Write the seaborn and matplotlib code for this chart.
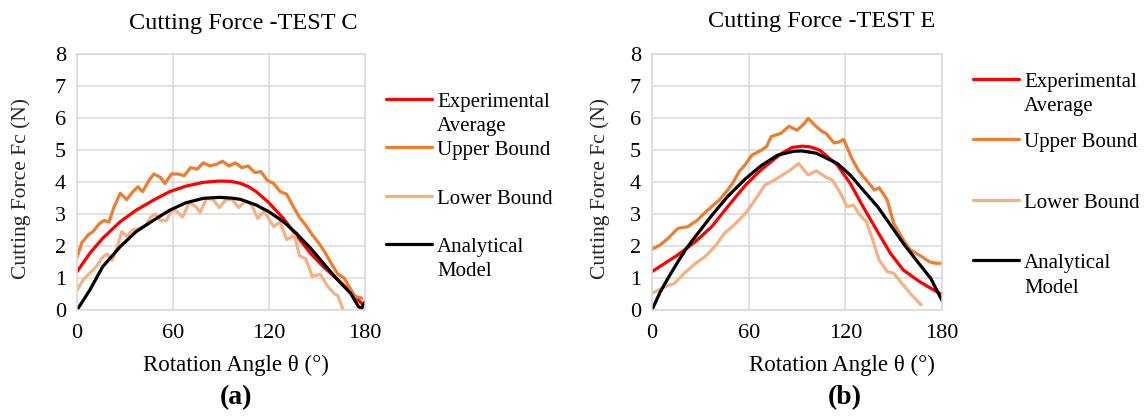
import numpy as np
import pandas as pd
import matplotlib
matplotlib.use("Agg")
import matplotlib.pyplot as plt
import seaborn as sns
from matplotlib.lines import Line2D
from matplotlib.legend_handler import HandlerLine2D

# ---------------- data: TEST C ----------------
c_avg_x = [0, 8, 16, 27, 37, 48, 58, 68, 79, 89, 96, 102, 107, 112, 120, 129, 137, 146, 154, 162, 171, 178]
c_avg_y = [1.2, 1.77, 2.24, 2.76, 3.12, 3.44, 3.70, 3.87, 3.99, 4.03, 4.02, 3.96, 3.86, 3.70, 3.35, 2.86, 2.34, 1.77, 1.35, 0.99, 0.57, 0.2]

c_up_x = [0, 3, 7, 10, 14, 17, 20, 23, 27, 31, 35, 38, 41, 45, 48, 52, 55, 59, 63, 67, 71, 75, 79, 83, 87,
          91, 95, 99, 103, 107, 111, 115, 119, 123, 127, 131, 135, 139, 143, 147, 151, 155, 159, 163, 167, 171, 174, 178]
c_up_y = [1.65, 2.1, 2.35, 2.45, 2.7, 2.8, 2.75, 3.2, 3.65, 3.45, 3.7, 3.85, 3.7, 4.05, 4.25, 4.15, 3.95, 4.25, 4.25, 4.2, 4.45, 4.4, 4.6, 4.5, 4.55,
          4.65, 4.5, 4.6, 4.45, 4.5, 4.3, 4.32, 4.05, 3.95, 3.7, 3.62, 3.25, 2.9, 2.65, 2.35, 2.1, 1.8, 1.45, 1.12, 1.0, 0.65, 0.42, 0.37]

c_lo_x = [0, 4, 8, 12, 16, 19, 22, 25, 28, 31, 35, 39, 43, 46, 49, 52, 56, 59, 62, 66, 70, 74, 77, 81, 85, 89, 93, 97,
          101, 105, 109, 113, 117, 121, 123, 127, 131, 136, 139, 143, 147, 152, 157, 161, 163, 166]
c_lo_y = [0.62, 0.95, 1.15, 1.35, 1.65, 1.75, 1.55, 1.95, 2.45, 2.3, 2.5, 2.55, 2.65, 2.9, 3.0, 2.8, 2.8, 3.1, 3.1, 2.9, 3.35, 3.25, 3.05, 3.5, 3.45, 3.2, 3.45, 3.45,
          3.2, 3.4, 3.3, 2.86, 3.1, 2.75, 2.6, 2.76, 2.2, 2.34, 1.7, 1.6, 1.05, 1.12, 0.72, 0.5, 0.45, 0.05]

c_an_x = [0, 8, 16, 27, 37, 48, 58, 68, 79, 89, 96, 102, 112, 120, 129, 137, 146, 154, 162, 171, 176, 178, 180]
c_an_y = [0.0, 0.62, 1.35, 1.98, 2.45, 2.81, 3.12, 3.35, 3.49, 3.52, 3.5, 3.46, 3.28, 3.07, 2.76, 2.40, 1.93, 1.46, 0.99, 0.52, 0.1, 0.06, 0.26]

# ---------------- data: TEST E ----------------
e_avg_x = [0, 8, 16, 27, 37, 47, 58, 67, 80, 87, 93, 98, 104, 115, 123, 131, 140, 148, 156, 166, 173, 180]
e_avg_y = [1.2, 1.46, 1.72, 2.14, 2.6, 3.23, 3.9, 4.35, 4.88, 5.08, 5.12, 5.1, 5.0, 4.53, 3.96, 3.23, 2.45, 1.77, 1.25, 0.89, 0.68, 0.48]

e_up_x = [0, 5, 10, 16, 22, 28, 33, 37, 42, 47, 50, 54, 58, 62, 65, 68, 71, 74, 80, 85, 90, 94, 97, 101, 105, 108,
          113, 116, 119, 124, 128, 133, 138, 141, 146, 150, 156, 160, 164, 168, 172, 176, 180]
e_up_y = [1.9, 2.03, 2.24, 2.55, 2.6, 2.8, 3.05, 3.23, 3.45, 3.75, 3.96, 4.32, 4.55, 4.84, 4.92, 5.0, 5.1, 5.42, 5.52, 5.74, 5.62, 5.8, 5.99, 5.78, 5.6, 5.52,
          5.22, 5.25, 5.33, 4.74, 4.37, 4.06, 3.75, 3.82, 3.44, 2.71, 2.19, 1.9, 1.77, 1.65, 1.51, 1.46, 1.46]

e_lo_x = [0, 8, 14, 20, 27, 33, 39, 45, 51, 58, 64, 70, 76, 82, 86, 91, 97, 102, 108, 112, 117, 121, 125, 129, 133,
          137, 141, 146, 150, 156, 162, 167]
e_lo_y = [0.52, 0.73, 0.83, 1.15, 1.46, 1.67, 1.98, 2.4, 2.66, 3.02, 3.44, 3.9, 4.06, 4.25, 4.38, 4.58, 4.22, 4.35, 4.15, 4.06, 3.65, 3.23, 3.28, 2.97, 2.76,
          2.19, 1.56, 1.2, 1.15, 0.78, 0.42, 0.16]

e_an_x = [0, 5, 10, 16, 21, 27, 37, 47, 58, 68, 78, 88, 93, 102, 115, 123, 131, 140, 148, 156, 164, 173, 180]
e_an_y = [0.0, 0.55, 1.0, 1.5, 1.9, 2.3, 2.95, 3.55, 4.1, 4.52, 4.84, 4.96, 4.97, 4.9, 4.58, 4.22, 3.75, 3.23, 2.66, 2.08, 1.56, 0.99, 0.3]

series_names = ["Experimental Average", "Upper Bound", "Lower Bound", "Analytical Model"]
legend_labels = ["Experimental\nAverage", "Upper Bound\n ", "Lower Bound\n ", "Analytical\nModel"]
colors = ["#FF0000", "#ED7D31", "#F4B183", "#000000"]
x_ticks = [0, 60, 120, 180]
y_ticks = [0, 1, 2, 3, 4, 5, 6, 7, 8]
titles = ["Cutting Force -TEST C", "Cutting Force -TEST E"]
panel_tags = ["(a)", "(b)"]
xlabel = "Rotation Angle \u03b8 (\u00b0)"
ylabel = "Cutting Force Fc (N)"


def long_frame(parts):
    rows = []
    for name, xs, ys in parts:
        for x, y in zip(xs, ys):
            rows.append((name, x, y))
    return pd.DataFrame(rows, columns=["series", "angle", "force"])


df_c = long_frame([(series_names[0], c_avg_x, c_avg_y), (series_names[1], c_up_x, c_up_y),
                   (series_names[2], c_lo_x, c_lo_y), (series_names[3], c_an_x, c_an_y)])
df_e = long_frame([(series_names[0], e_avg_x, e_avg_y), (series_names[1], e_up_x, e_up_y),
                   (series_names[2], e_lo_x, e_lo_y), (series_names[3], e_an_x, e_an_y)])

sns.set_theme(style="white")
plt.rcParams["font.family"] = ["Liberation Serif", "DejaVu Serif"]
plt.rcParams["text.color"] = "#000000"

W, H = 1146, 416
fig = plt.figure(figsize=(W / 100, H / 100), dpi=100)


def fx(px):
    return px / W


def fy(py):
    return 1 - py / H


GRID = "#D9D9D9"


class FirstLineHandler(HandlerLine2D):
    def __init__(self, shift, **kw):
        super().__init__(**kw)
        self.shift = shift

    def create_artists(self, legend, orig_handle, xdescent, ydescent, width, height, fontsize, trans):
        return super().create_artists(legend, orig_handle, xdescent, ydescent - 2 * self.shift,
                                      width, height, fontsize, trans)


panels = [
    dict(df=df_c, left=77, right=365, title_x=243, title_y=24, xl_x=236, ylab_x=31,
         leg_x=386, leg_y=93, labelspacing=0.24, tag_x=236),
    dict(df=df_e, left=652, right=942, title_x=822, title_y=22, xl_x=842, ylab_x=610,
         leg_x=973, leg_y=73, labelspacing=0.82, tag_x=845),
]
top, bottom = 54, 310

for i, p in enumerate(panels):
    ax = fig.add_axes([fx(p["left"]), fy(bottom), fx(p["right"] - p["left"]), (bottom - top) / H])
    for name, col in zip(series_names, colors):
        sub = p["df"][p["df"]["series"] == name]
        sns.lineplot(data=sub, x="angle", y="force", color=col, linewidth=2.3, ax=ax,
                     estimator=None, sort=False, legend=False)
    ax.set_xlim(0, 180)
    ax.set_ylim(0, 8)
    ax.set_xticks(x_ticks)
    ax.set_yticks(y_ticks)
    ax.grid(True, color=GRID, linewidth=1.1)
    ax.set_axisbelow(True)
    for s in ax.spines.values():
        s.set_color(GRID)
        s.set_linewidth(1.1)
    ax.tick_params(axis="both", length=0, labelsize=16, colors="#000000")
    ax.tick_params(axis="y", pad=8)
    ax.tick_params(axis="x", pad=10)
    ax.set_xlabel("")
    ax.set_ylabel(ylabel, fontsize=15.5)
    ax.yaxis.set_label_coords((p["ylab_x"] - p["left"]) / (p["right"] - p["left"]), 0.475)

    fig.text(fx(p["title_x"]), fy(p["title_y"]), titles[i], fontsize=17.5, ha="center", va="center")
    fig.text(fx(p["xl_x"]), fy(365), xlabel, fontsize=16.5, ha="center", va="center")
    fig.text(fx(p["tag_x"]), fy(398), panel_tags[i], fontsize=20, fontweight="bold", ha="center", va="center")

    handles = [Line2D([], [], color=c, linewidth=2.3) for c in colors]
    hmap = {h: FirstLineHandler(shift=11.0) for h in handles}
    leg = fig.legend(handles, legend_labels, loc="upper left",
                     bbox_to_anchor=(fx(p["leg_x"]), fy(p["leg_y"])), bbox_transform=fig.transFigure,
                     frameon=False, fontsize=15, borderpad=0, borderaxespad=0,
                     handlelength=2.2, handletextpad=0.25, labelspacing=p["labelspacing"],
                     handler_map=hmap)
    for t in leg.get_texts():
        t.set_linespacing(1.38)

fig.savefig("out.png", dpi=100)
